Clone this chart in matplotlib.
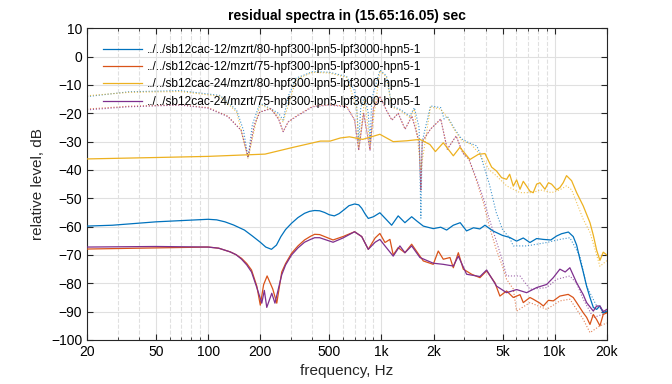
import numpy as np
import matplotlib.pyplot as plt
from matplotlib.ticker import FixedLocator, NullFormatter

plt.rcParams['font.family'] = ['Liberation Sans', 'DejaVu Sans']

names = ['../../sb12cac-12/mzrt/80-hpf300-lpn5-lpf3000-hpn5-1',
         '../../sb12cac-12/mzrt/75-hpf300-lpn5-lpf3000-hpn5-1',
         '../../sb12cac-24/mzrt/80-hpf300-lpn5-lpf3000-hpn5-1',
         '../../sb12cac-24/mzrt/75-hpf300-lpn5-lpf3000-hpn5-1']
colors = ['#0072BD', '#D95319', '#EDB120', '#7E2F8E']

# residual spectra (solid)
f_blue = [20, 28, 50, 100, 112, 125, 140, 162, 180, 200, 215, 232, 248, 263, 280, 303, 330, 360, 385, 412,
          440, 470, 500, 535, 570, 610, 650, 700, 740, 770, 805, 840, 900, 980,
          1049, 1146, 1250, 1367, 1495, 1600, 1745, 1992, 2200, 2380, 2600, 2850, 3100, 3400, 3700, 3960,
          4400, 5000, 5500, 6030, 6590, 7200, 7870, 8600, 9500, 10260, 10960, 12000, 12800, 13390, 13990,
          14620, 15290, 15990, 16710, 17470, 18250, 19070, 20000]
db_blue = [-59.8, -59.5, -58.3, -57.4, -57.6, -58.3, -59.4, -61.2, -63.3, -65.5, -67.2, -68, -66.5, -63.5,
           -61.0, -58.8, -56.8, -55.3, -54.6, -54.3, -54.4, -55, -55.8, -56.2, -55.4, -54, -52.6,
           -52, -52.3, -53.5, -55.5, -57.1, -56.5, -55.1, -57, -59.5, -56.2, -58.6, -56.5, -58, -59.8, -60.7, -60.2, -61.2,
           -59.5, -58.6, -61.5, -60.4, -60.8, -59.5, -61.5, -63.1, -63.8, -65.1, -64.0, -65.6, -64.2, -64.5,
           -64.7, -63.3, -62.5, -61.9, -63.5, -66.5, -71.5, -76, -81, -85, -88.5, -89.2, -88, -90.5, -89.8]

f_red = [20, 50, 100, 115, 134, 145, 156, 167, 178, 191, 200, 209, 219, 236, 249, 266, 280, 303, 330, 360,
         390, 412, 440, 470, 526, 600, 700,
         770, 840, 920, 980, 1049, 1120, 1170, 1250, 1367, 1495, 1669, 1745, 1992, 2129, 2276, 2488, 2601,
         2780, 2969, 3318, 3705, 4049, 4522, 4829, 5280, 5771, 6310, 6590, 7200, 7520, 8220, 8600, 9200,
         9820, 10720, 11970, 12800, 13390, 14620, 15290, 15990, 16710, 17470, 18250, 19070, 20000]
db_red = [-67.9, -67.5, -67.2, -67.6, -68.9, -69.9, -71.2, -73, -75.3, -81, -87.7, -80.5, -77.4, -82, -87,
          -76, -73, -69.4, -66.8, -64.7, -63.4, -62.7, -62.8, -63.5, -64.7, -63.5, -61.8, -63.5, -68, -64,
          -62.4, -65.6, -64.5, -70, -67.4, -69.2, -66.2,
          -70.4, -72.1, -73.3, -68.6, -71.5, -70.9, -74.5, -69.2, -75, -76.8, -78, -75.6, -79.8, -84.5,
          -82.7, -85, -84, -86.8, -85, -85.6, -87, -88, -86, -86.2, -84.5, -83.9, -85, -86.8, -90.4, -92,
          -94.5, -91, -92.8, -95, -91, -90.4]

f_yel = [20, 50, 100, 213, 310, 445, 506, 580, 654, 780, 980, 1170, 1400, 1669, 1905, 2050, 2276, 2601,
         2839, 3243, 3625, 3960, 4328, 4623, 4938, 5280, 5500, 5771, 6030, 6310, 6590, 6890, 7200, 7520,
         7870, 8220, 8790, 9200, 9600, 10260, 10720, 11200, 11710, 12530, 13390, 14620, 15990, 16710,
         17470, 18250, 19070, 20000]
db_yel = [-36.1, -35.6, -35.2, -34.4, -32, -29.8, -29.8, -28.7, -28.3, -29.2, -27.4, -30, -29.7, -29.2, -31,
          -33.5, -30.4, -35, -32, -36.3, -34.5, -34.2, -39, -40.4, -42.7, -43.3, -41.5, -45.7, -43.5, -46.8,
          -44, -45.7, -47.5, -48, -45, -44.5, -46.8, -44.5, -45, -47, -46.2, -44.5, -42, -43.8, -48, -52.7,
          -58.6, -63, -68.3, -71.9, -69, -70]

f_pur = [20, 50, 100, 115, 134, 145, 156, 167, 178, 191, 204, 211, 218, 233, 243, 266, 280, 303, 330, 360,
         390, 412, 440, 470, 526, 600, 700,
         770, 840, 920, 980, 1049, 1170, 1279, 1367, 1495, 1669, 1992, 2276, 2601, 2780, 3103, 3705, 4049,
         4622, 5280, 6030, 6890, 7870, 8990, 9820, 10720, 11500, 12240, 13390, 14620, 15290, 16710, 17470,
         18250, 19070, 20000]
db_pur = [-67.2, -67, -67.2, -67.6, -68.9, -69.9, -71.5, -73.5, -76, -81.5, -87, -82.5, -88.5, -83.5, -87,
          -77, -73.5, -70, -67.5, -65.5, -64.5, -63.9, -63.9, -64.5, -65.5, -64, -61.8, -63.5, -68, -65.5,
          -64.5, -66.8, -70.4, -66.8, -69.2, -66.8,
          -70.9, -72.9, -73.3, -73.9, -70.4, -76.8, -77.6, -75.3, -81, -83.3, -82.2, -83.3, -81.5, -80.4,
          -78, -75, -76, -74.5, -79.8, -84, -86.8, -89.8, -88, -88, -90, -89.2]

# reference spectra (dotted)
fr_blue = [20, 35, 69, 117, 146, 160, 170, 180, 199, 236, 255, 271, 290, 322, 401, 500, 630, 700, 720, 740,
           760, 800, 840, 860, 880, 981, 1070, 1150, 1280, 1460, 1550, 1650, 1690, 1720, 1920, 2200, 2300,
           2400, 2650, 2900, 3200, 3550, 3700, 3900, 4200, 4600, 5000, 5500, 5771, 6890, 8990, 10720,
           12240, 13990, 15290, 17470, 20000]
dbr_blue = [-14.1, -12.4, -12, -13.7, -18.9, -26, -35.5, -24, -16.4, -18.8, -20, -22.4, -14, -7.6, -5.3,
            -5.5, -7, -12, -17.7, -30, -18, -14, -20, -30, -15, -4.7, -6.8, -17.4, -18.6, -21, -18, -25,
            -57, -30, -17.4, -18, -22, -21, -25.6, -29, -30.4, -31.5, -34, -38.6, -45, -55, -61, -64,
            -66.8, -66.8, -65.6, -64.5, -63.9, -70.4, -81, -88, -90.4]

fr_red = [20, 35, 69, 100, 130, 155, 170, 185, 199, 230, 255, 271, 290, 322, 401, 500, 630, 700, 740, 790,
          860, 900, 981, 1070, 1150, 1250, 1370, 1500, 1650, 1690, 1720, 1920, 2200, 2400, 2700, 2950,
          3200, 3550, 3900, 4200, 4600, 5000, 5280, 5771, 6030, 7200, 8990, 10720, 12240, 14620, 15990,
          18250, 20000]
dbr_red = [-18.5, -17.5, -17, -18, -21, -26, -35.5, -24, -19.5, -18.3, -22, -26.5, -23, -21, -17.5, -17,
           -17.5, -22.2, -33, -20, -33, -18, -14, -19, -22.4, -20, -25.6, -21, -30, -47, -30, -25.6, -22,
           -32.7, -28, -34, -36.2, -44, -52, -60, -68, -74, -78.6, -82, -89.8, -86.8, -89.2, -86.2, -85.6,
           -92.7, -97.4, -95, -94]

fr_yel = [20, 35, 69, 117, 146, 170, 199, 236, 271, 322, 401, 500, 630, 720, 740, 800, 860, 981, 1070,
          1150, 1280, 1460, 1550, 1690, 1920, 2200, 2400, 2650, 2900, 3300, 3700, 4200, 4600, 5280, 6310,
          7500, 8220, 9600, 10720, 11710, 12530, 13390, 14620, 15990, 17470, 18250, 20000]
dbr_yel = [-13.8, -12.6, -12.3, -14, -19.5, -36, -16.8, -19, -23, -8, -5.5, -5.8, -7.3, -18, -32, -15, -31,
           -5, -7.2, -17.8, -19, -21.5, -18.5, -40, -17.8, -18.5, -21.5, -26, -29.5, -31, -34.5, -40, -42,
           -45.6, -48, -48, -47, -48, -47, -45.6, -47, -51.5, -57.4, -62, -70, -74, -72]

fr_pur = [20, 35, 69, 100, 130, 155, 170, 185, 199, 230, 255, 271, 290, 322, 401, 500, 630, 700, 740, 790,
          860, 900, 981, 1070, 1150, 1250, 1370, 1500, 1650, 1690, 1720, 1920, 2200, 2400, 2700, 2950,
          3200, 3550, 3900, 4200, 4600, 5000, 5280, 6310, 7200, 8990, 10260, 12240, 13390, 14620, 16710,
          20000]
dbr_pur = [-18.8, -17.7, -17.1, -18.2, -21.2, -26, -35.5, -24, -19.6, -18.4, -22, -26.5, -23, -21.2, -17.7,
           -17.1, -17.7, -22.4, -33, -20, -33, -18, -14.1, -19, -22.4, -20, -25.6, -21, -30, -47, -30,
           -25.6, -22, -32.7, -28, -34, -36.2, -43.3, -50.4, -57.4, -65, -72, -77.4, -77.4, -82.1, -81.5,
           -78.6, -77.4, -80, -85.6, -92.1, -90.4]

solid = [(f_blue, db_blue), (f_red, db_red), (f_yel, db_yel), (f_pur, db_pur)]
dotted = [(fr_blue, dbr_blue), (fr_red, dbr_red), (fr_yel, dbr_yel), (fr_pur, dbr_pur)]

fig = plt.figure(figsize=(6.72, 3.84), dpi=100)
ax = fig.add_axes([0.1295, 0.1146, 0.7735, 0.8117])

for (f, d), c, n in zip(solid, colors, names):
    ax.semilogx(f, d, color=c, lw=0.9, label=n, zorder=3)
for (f, d), c in zip(dotted, colors):
    ax.semilogx(f, d, color=c, lw=0.8, ls=':', alpha=0.75, zorder=2)

xt = [20, 50, 100, 200, 500, 1000, 2000, 5000, 10000, 20000]
xtl = ['20', '50', '100', '200', '500', '1k', '2k', '5k', '10k', '20k']
minors = [m * 10 ** e for e in range(1, 5) for m in range(2, 10)]
minors = [v for v in minors if 20 < v < 20000 and v not in xt]
ax.set_xlim(20, 20000)
ax.set_ylim(-100, 10)
ax.xaxis.set_major_locator(FixedLocator(xt))
ax.set_xticklabels(xtl)
ax.xaxis.set_minor_locator(FixedLocator(minors))
ax.xaxis.set_minor_formatter(NullFormatter())
ax.set_yticks(np.arange(-100, 11, 10))
ax.tick_params(which='both', direction='in', top=True, right=True, labelsize=10, color='#262626')
ax.tick_params(which='major', length=4)
ax.tick_params(which='minor', length=2)
ax.grid(which='major', color='#e0e0e0', lw=0.8)
ax.grid(which='minor', color='#e0e0e0', lw=0.8, ls='--')
ax.set_axisbelow(True)
for s in ax.spines.values():
    s.set_color('#262626')
    s.set_linewidth(0.8)

ax.set_xlabel('frequency, Hz', fontsize=11, color='#262626')
ax.set_ylabel('relative level, dB', fontsize=11, color='#262626')
ax.set_title('residual spectra in (15.65:16.05) sec', fontsize=10, fontweight='bold', pad=6)
ax.legend(loc='upper left', frameon=False, fontsize=8.6, handlelength=3.3, handletextpad=0.4,
          labelspacing=0.45, borderaxespad=0.5, bbox_to_anchor=(0.01, 0.985))

fig.savefig('out.png', dpi=100)
